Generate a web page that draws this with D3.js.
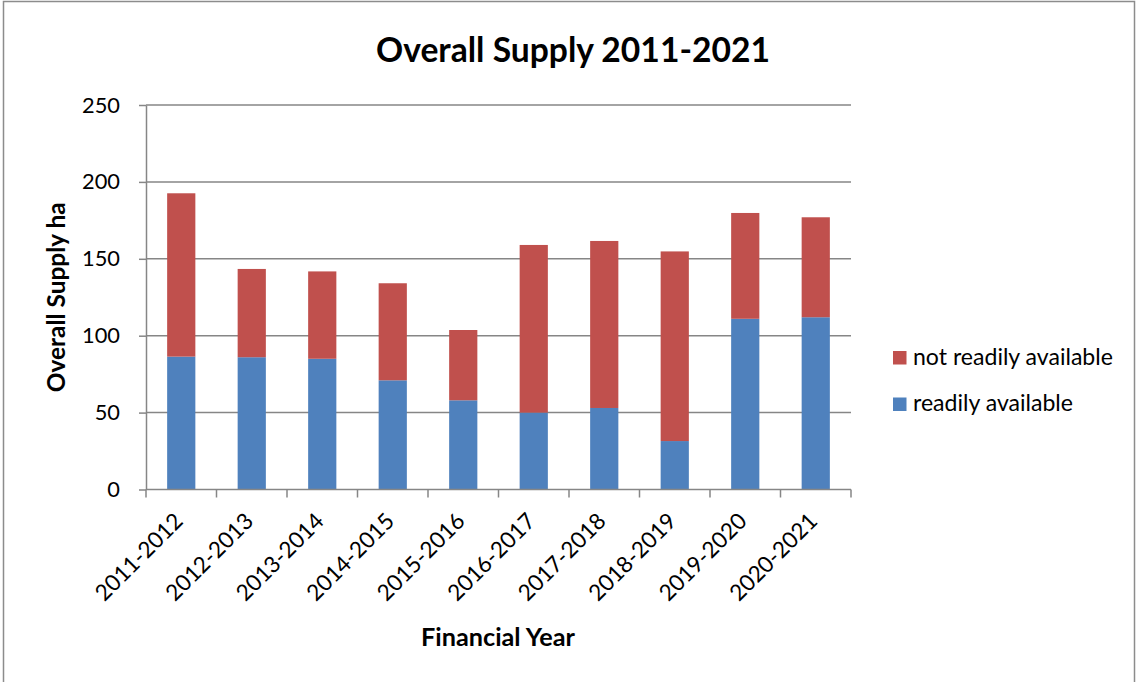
<!DOCTYPE html>
<html><head><meta charset="utf-8">
<script src="https://cdn.jsdelivr.net/npm/d3@7"></script>
<style>body{margin:0;background:#fff}svg{display:block}text{font-family:Lato,"Open Sans",sans-serif;fill:#000}</style>
</head><body>
<svg id="c" width="1138" height="682"></svg>
<script>
const categories = ["2011-2012","2012-2013","2013-2014","2014-2015","2015-2016","2016-2017","2017-2018","2018-2019","2019-2020","2020-2021"];
const readilyAvailable = [86.4, 86, 85, 71, 58, 50, 53, 31.5, 111, 112];
const notReadilyAvailable = [106.2, 57.4, 56.8, 63.1, 45.7, 109, 108.6, 123.3, 68.8, 65];
const seriesNames = ["readily available", "not readily available"];
const yTicks = [0, 50, 100, 150, 200, 250];
const colors = {"readily available": "#4F81BD", "not readily available": "#C0504D"};

const svg = d3.select("#c");
const m = {l:146, r:851, t:105, b:489.5};
const grid = "#868686";

// scale font so a text element reaches a target width
function fitSize(text, weight, target){
  const t = svg.append("text").attr("font-size",20).attr("font-weight",weight).text(text);
  const w = t.node().getComputedTextLength(); t.remove();
  return 20*target/w;
}

svg.append("rect").attr("x",3.5).attr("y",1.5).attr("width",1131).attr("height",700)
  .attr("fill","none").attr("stroke","#8c8c8c").attr("stroke-width",1.5);

const x = d3.scaleBand().domain(categories).range([m.l, m.r]).paddingInner(0.6).paddingOuter(0.3);
const xo = d3.scaleBand().domain(categories).range([m.l, m.r]);
const y = d3.scaleLinear().domain([0,250]).range([m.b, m.t]);

// gridlines
svg.append("g").selectAll("line").data(yTicks.filter(d=>d>0)).join("line")
  .attr("x1", m.l).attr("x2", m.r).attr("y1", d=>y(d)).attr("y2", d=>y(d))
  .attr("stroke", grid).attr("stroke-width", 1.5);

// stacked data
const rows = categories.map((c,i)=>({cat:c, "readily available":readilyAvailable[i], "not readily available":notReadilyAvailable[i]}));
const stack = d3.stack().keys(seriesNames)(rows);
svg.append("g").selectAll("g").data(stack).join("g").attr("fill", d=>colors[d.key])
  .selectAll("rect").data(d=>d).join("rect")
  .attr("x", d=>x(d.data.cat)).attr("width", x.bandwidth())
  .attr("y", d=>y(d[1])).attr("height", d=>y(d[0])-y(d[1]));

// y axis
const tickFs = fitSize("250","normal",38);
const ya = svg.append("g").attr("transform",`translate(${m.l},0)`)
  .call(d3.axisLeft(y).tickValues(yTicks).tickSize(7).tickPadding(19).tickSizeOuter(0));
ya.select(".domain").attr("stroke", grid).attr("stroke-width",1.5);
ya.selectAll(".tick line").attr("stroke", grid).attr("stroke-width",1.5);
ya.selectAll("text").attr("font-size",tickFs).attr("font-family","Lato,sans-serif").attr("fill","#000");

// x axis
const xFs = fitSize("2011-2012","normal",113);
const xa = svg.append("g").attr("transform",`translate(0,${m.b})`);
xa.append("line").attr("x1",m.l).attr("x2",m.r).attr("stroke",grid).attr("stroke-width",1.5);
xa.selectAll("line.tk").data(d3.range(categories.length+1)).join("line").attr("class","tk")
  .attr("x1", i=>m.l + i*xo.step()).attr("x2", i=>m.l + i*xo.step())
  .attr("y1",0).attr("y2",8).attr("stroke",grid).attr("stroke-width",1.5);
xa.selectAll("text.lbl").data(categories).join("text").attr("class","lbl")
  .attr("transform", d=>`translate(${xo(d)+xo.bandwidth()/2+3},${33}) rotate(-45)`)
  .attr("text-anchor","end").attr("font-size",xFs).text(d=>d);

// titles
svg.append("text").attr("x",573).attr("y",62).attr("text-anchor","middle")
  .attr("font-size",fitSize("Overall Supply 2011-2021","bold",394)).attr("font-weight","bold").text("Overall Supply 2011-2021");
svg.append("text").attr("transform",`translate(65,${(m.t+m.b)/2}) rotate(-90)`).attr("text-anchor","middle")
  .attr("font-size",fitSize("Overall Supply ha","bold",190)).attr("font-weight","bold").text("Overall Supply ha");
svg.append("text").attr("x",498).attr("y",646).attr("text-anchor","middle")
  .attr("font-size",fitSize("Financial Year","bold",154)).attr("font-weight","bold").text("Financial Year");

// legend
const legFs = fitSize("not readily available","normal",200);
const leg = [{k:"not readily available", y:364.5},{k:"readily available", y:411}];
const lg = svg.append("g").selectAll("g").data(leg).join("g").attr("transform",d=>`translate(893,${d.y})`);
lg.append("rect").attr("x",0).attr("y",-13.5).attr("width",13.5).attr("height",13.5).attr("fill",d=>colors[d.k]);
lg.append("text").attr("x",20).attr("y",0).attr("font-size",legFs).text(d=>d.k);
</script>
</body></html>
